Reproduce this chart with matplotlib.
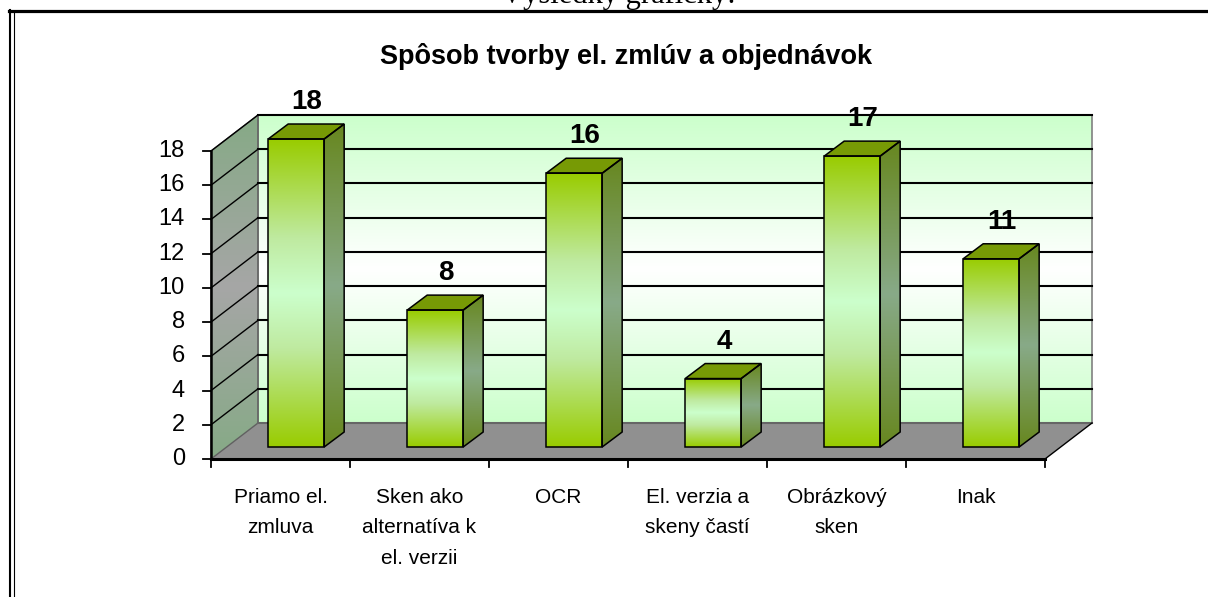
import numpy as np
import matplotlib.pyplot as plt
from matplotlib.patches import Polygon
from matplotlib.colors import LinearSegmentedColormap

plt.rcParams['font.family'] = ['Liberation Sans', 'DejaVu Sans']

# ---- data ----
categories = ["Priamo el.\nzmluva", "Sken ako\nalternatíva k\nel. verzii", "OCR",
              "El. verzia a\nskeny častí", "Obrázkový\nsken", "Inak"]
values = [18, 8, 16, 4, 17, 11]
y_ticks = [0, 2, 4, 6, 8, 10, 12, 14, 16, 18]
title = "Spôsob tvorby el. zmlúv a objednávok"

# ---- geometry of the fake 3D box (pixels) ----
X0, Y0 = 211, 459          # front-left corner of the floor
CAT_W = 139                # width of one category
WALL_DX, WALL_DY = 47, -36 # depth offset of the back wall
K = 17.11                  # pixels per unit
V_TOP = 18
BAR_D = 1 / 3              # depth where the bar front sits
BAR_W = 56
BAR_DX, BAR_DY = 20, -15
n = len(categories)


def front(c, v):
    return X0 + CAT_W * c, Y0 - K * v


def back(c, v):
    return X0 + WALL_DX + CAT_W * c, Y0 + WALL_DY - K * v


def grad_poly(ax, pts, stops, z):
    pts = np.array(pts, dtype=float)
    xmin, ymin = pts.min(0)
    xmax, ymax = pts.max(0)
    cmap = LinearSegmentedColormap.from_list('g', stops)
    img = np.linspace(0, 1, 256).reshape(-1, 1)
    im = ax.imshow(img, cmap=cmap, extent=(xmin, xmax, ymin, ymax), origin='lower',
                   aspect='auto', zorder=z, interpolation='bilinear')
    p = Polygon(pts, closed=True, fc='none', ec='none', zorder=z)
    ax.add_patch(p)
    im.set_clip_path(p)


fig = plt.figure(figsize=(12.08, 5.97), dpi=100)
ax = fig.add_axes([0, 0, 1, 1])

# ---- walls & floor ----
wall = [back(0, 0), back(n, 0), back(n, V_TOP), back(0, V_TOP)]
grad_poly(ax, wall, [(0, '#ccffcc'), (0.5, '#ffffff'), (1, '#ccffcc')], 1)
ax.add_patch(Polygon(wall, closed=True, fc='none', ec='#808080', lw=1.2, zorder=1.5))

lwall = [front(0, 0), back(0, 0), back(0, V_TOP), front(0, V_TOP)]
grad_poly(ax, lwall, [(0, '#86aa86'), (0.5, '#a6a6a6'), (1, '#86aa86')], 1)
ax.add_patch(Polygon(lwall, closed=True, fc='none', ec='#606060', lw=1, zorder=1.5))

floor = [front(0, 0), front(n, 0), back(n, 0), back(0, 0)]
ax.add_patch(Polygon(floor, closed=True, fc='#909090', ec='none', zorder=1))
ax.plot([back(0, 0)[0], back(n, 0)[0]], [back(0, 0)[1], back(n, 0)[1]], color='#666666', lw=1.5, zorder=1.6)
ax.plot([front(n, 0)[0], back(n, 0)[0]], [front(n, 0)[1], back(n, 0)[1]], color='black', lw=1, zorder=1.6)

# gridlines on back wall and left wall
for t in y_ticks[1:]:
    bx0, by = back(0, t)
    bx1, _ = back(n, t)
    ax.plot([bx0, bx1], [by, by], color='black', lw=1.5, zorder=2)
    fx, fy = front(0, t)
    ax.plot([fx, bx0], [fy, by], color='black', lw=1, zorder=2)

# ---- axes lines and ticks ----
ax.plot([X0, X0], [front(0, 0)[1], front(0, V_TOP)[1]], color='black', lw=1.8, zorder=5)
ax.plot([X0, front(n, 0)[0]], [Y0, Y0], color='black', lw=2.2, zorder=5)
for t in y_ticks:
    fx, fy = front(0, t)
    ax.plot([fx - 8, fx], [fy, fy], color='black', lw=1.3, zorder=5)
    ax.text(185, fy, str(t), ha='right', va='center', fontsize=17)
for c in range(n + 1):
    fx, fy = front(c, 0)
    ax.plot([fx, fx], [fy, fy + 8], color='black', lw=1.3, zorder=5)
for i, lab in enumerate(categories):
    ax.text(front(i + 0.5, 0)[0], 488, lab, ha='center', va='top', fontsize=15, linespacing=1.75)

# ---- bars ----
front_stops = [(0, '#99cc00'), (0.32, '#bfeaa0'), (0.5, '#ccffcc'), (0.68, '#bfeaa0'), (1, '#99cc00')]
side_stops = [(0, '#67871f'), (0.5, '#88aa88'), (1, '#67871f')]
for i, v in enumerate(values):
    cx = X0 + CAT_W * (i + 0.5) + WALL_DX * BAR_D
    yb = Y0 + WALL_DY * BAR_D
    yt = yb - K * v
    xl, xr = cx - BAR_W / 2, cx + BAR_W / 2
    face = [(xl, yb), (xr, yb), (xr, yt), (xl, yt)]
    side = [(xr, yb), (xr + BAR_DX, yb + BAR_DY), (xr + BAR_DX, yt + BAR_DY), (xr, yt)]
    top = [(xl, yt), (xr, yt), (xr + BAR_DX, yt + BAR_DY), (xl + BAR_DX, yt + BAR_DY)]
    grad_poly(ax, face, front_stops, 3)
    grad_poly(ax, side, side_stops, 3)
    ax.add_patch(Polygon(top, closed=True, fc='#779a05', ec='none', zorder=3))
    for pts in (face, side, top):
        ax.add_patch(Polygon(pts, closed=True, fc='none', ec='black', lw=1.1, zorder=3.5))
    ax.text(cx + 11, yt - 30, str(v), ha='center', va='baseline', fontsize=20,
            fontweight='bold', zorder=6)

# ---- title & page frame ----
ax.text(626, 56, title, ha='center', va='center', fontsize=19.5, fontweight='bold')
ax.text(618, 3, "Výsledky graficky:", ha='center', va='baseline', fontsize=22,
        family=['Liberation Serif', 'DejaVu Serif'])
ax.plot([9, 1208], [11, 11], color='black', lw=2.3)
ax.plot([10, 10], [10, 597], color='black', lw=1.5)
ax.plot([13.5, 13.5], [12, 597], color='black', lw=0.8)

ax.set_xlim(0, 1208)
ax.set_ylim(597, 0)
ax.axis('off')
fig.savefig('out.png', dpi=100)
